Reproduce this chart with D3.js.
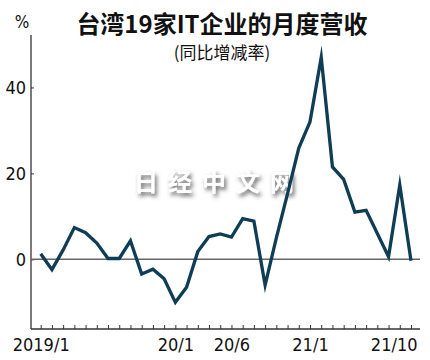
<!DOCTYPE html>
<html>
<head>
<meta charset="utf-8">
<script src="https://cdn.jsdelivr.net/npm/d3@7"></script>
<style>
  html, body { margin: 0; padding: 0; background: #ffffff; }
  svg { display: block; }
  .num { font-family: "Liberation Sans Narrow", "DejaVu Sans Condensed", "Arial Narrow", sans-serif; }
</style>
</head>
<body>
<svg id="chart" width="430" height="360"></svg>
<script>
// ---- data ----
const months = [
  "2019/1","2019/2","2019/3","2019/4","2019/5","2019/6","2019/7","2019/8","2019/9","2019/10","2019/11","2019/12",
  "2020/1","2020/2","2020/3","2020/4","2020/5","2020/6","2020/7","2020/8","2020/9","2020/10","2020/11","2020/12",
  "2021/1","2021/2","2021/3","2021/4","2021/5","2021/6","2021/7","2021/8","2021/9","2021/10"
];
const revenueGrowth = [
  1.3, -2.4, 2.2, 7.4, 6.2, 3.8, 0.2, 0.2, 4.3, -3.4, -2.3, -4.5,
  -10.0, -6.5, 1.8, 5.3, 5.9, 5.2, 9.5, 8.9, -6.0, 5.0, 15.3, 25.9,
  32.0, 47.0, 21.5, 18.6, 11.0, 11.4, 6.0, 0.6, 17.3, -0.3
];
const xTickLabels = { "2019/1": "2019/1", "2020/1": "20/1", "2020/6": "20/6", "2021/1": "21/1", "2021/10": "21/10" };
const yTickValues = [0, 20, 40];
const titleText = "台湾19家IT企业的月度营收";
const subtitleText = "(同比增减率)";
const unitText = "%";
const watermarkText = "日经中文网";

// ---- drawing ----
(function () {
const svg = d3.select("#chart");
const mLeft = 31, mRight = 420, mTop = 35, mBottom = 329;

const x = d3.scalePoint().domain(months).range([40.7, 411]);
const y = d3.scaleLinear().domain([-16.2, 52.2]).range([mBottom, mTop]);

const defs = svg.append("defs");
const f = defs.append("filter").attr("id", "shadow").attr("x", "-20%").attr("y", "-60%").attr("width", "140%").attr("height", "220%");
f.append("feGaussianBlur").attr("in", "SourceAlpha").attr("stdDeviation", 2.2).attr("result", "b");
f.append("feOffset").attr("in", "b").attr("dx", 2).attr("dy", 2.5).attr("result", "o");
f.append("feFlood").attr("flood-color", "#444").attr("flood-opacity", 0.85).attr("result", "c");
f.append("feComposite").attr("in", "c").attr("in2", "o").attr("operator", "in").attr("result", "s");
const fm = f.append("feMerge");
fm.append("feMergeNode").attr("in", "s");
fm.append("feMergeNode").attr("in", "SourceGraphic");

// title
svg.append("text").attr("x", 222).attr("y", 33).attr("text-anchor", "middle")
  .style("font-family", "'Noto Sans CJK SC', sans-serif").style("font-weight", "bold")
  .style("font-size", "24px").attr("fill", "#111").text(titleText);
svg.append("text").attr("x", 222).attr("y", 59).attr("text-anchor", "middle")
  .style("font-family", "'Noto Sans CJK SC', sans-serif")
  .style("font-size", "17px").attr("fill", "#111").text(subtitleText);
svg.append("text").attr("class", "num").attr("x", 22).attr("y", 28).attr("text-anchor", "middle")
  .style("font-size", "17px").attr("fill", "#111").text(unitText);

// watermark
svg.append("text").attr("text-anchor", "middle").attr("x", 219).attr("y", 191)
  .style("font-family", "'Noto Sans CJK SC', sans-serif").style("font-size", "24px").style("font-weight", "bold")
  .style("letter-spacing", "10px").attr("fill", "#ffffff").attr("filter", "url(#shadow)").text(watermarkText);

// y axis
const yAxis = d3.axisLeft(y).tickValues(yTickValues).tickSizeInner(-3).tickSizeOuter(0).tickPadding(5);
const gy = svg.append("g").attr("transform", `translate(${mLeft},0)`).call(yAxis);
gy.select(".domain").remove();
gy.selectAll(".tick line").attr("stroke", "#333").attr("stroke-width", 1);
gy.selectAll(".tick text").attr("class", "num").style("font-size", "18px").attr("fill", "#111").attr("dy", "0.35em");
svg.append("line").attr("x1", mLeft).attr("x2", mLeft).attr("y1", mTop).attr("y2", mBottom)
  .attr("stroke", "#333").attr("stroke-width", 1.3);

// x axis
const xAxis = d3.axisBottom(x).tickSizeInner(-4).tickSizeOuter(0).tickPadding(9)
  .tickFormat(d => xTickLabels[d] || "");
const gx = svg.append("g").attr("transform", `translate(0,${mBottom})`).call(xAxis);
gx.select(".domain").remove();
gx.selectAll(".tick line").attr("stroke", "#333").attr("stroke-width", 1);
gx.selectAll(".tick text").attr("class", "num").style("font-size", "18px").attr("fill", "#111")
  .attr("text-anchor", d => d === "2021/10" ? "end" : "middle")
  .attr("dx", d => d === "2021/10" ? 6 : 0);
svg.append("line").attr("x1", mLeft).attr("x2", mRight).attr("y1", mBottom).attr("y2", mBottom)
  .attr("stroke", "#333").attr("stroke-width", 1.3);

// zero line
svg.append("line").attr("x1", mLeft).attr("x2", mRight).attr("y1", y(0)).attr("y2", y(0))
  .attr("stroke", "#666").attr("stroke-width", 1.5);

// data line
const line = d3.line().x((d, i) => x(months[i])).y(d => y(d));
svg.append("path").datum(revenueGrowth).attr("d", line)
  .attr("fill", "none").attr("stroke", "#0e3d55").attr("stroke-width", 3.3).attr("stroke-linejoin", "miter").attr("stroke-miterlimit", 10);
})();
</script>
</body>
</html>
